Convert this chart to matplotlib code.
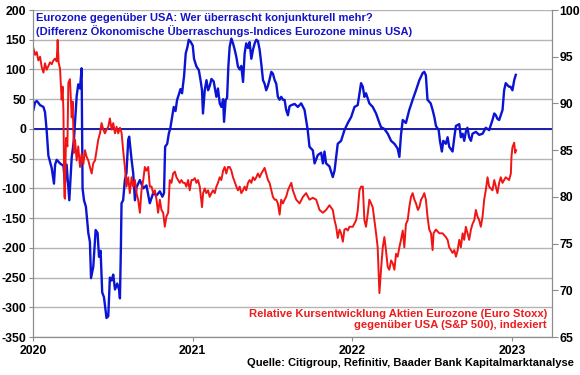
import matplotlib
matplotlib.use("Agg")
import matplotlib.pyplot as plt
import numpy as np

plt.rcParams['font.family'] = ['Liberation Sans', 'DejaVu Sans']
plt.rcParams['axes.unicode_minus'] = False

# Differenz Citi Surprise Index Eurozone minus USA (linke Achse), t in Dezimaljahren
blue_t = [2020.002, 2020.013, 2020.023, 2020.033, 2020.044, 2020.065, 2020.075, 2020.085, 2020.096,
          2020.106, 2020.117, 2020.131, 2020.138, 2020.148, 2020.169, 2020.19, 2020.2, 2020.21,
          2020.227, 2020.242, 2020.256, 2020.273, 2020.283, 2020.294, 2020.304, 2020.31, 2020.319,
          2020.331, 2020.346, 2020.356, 2020.363, 2020.377, 2020.392, 2020.404, 2020.413, 2020.423,
          2020.433, 2020.444, 2020.452, 2020.46, 2020.471, 2020.481, 2020.492, 2020.502, 2020.513,
          2020.527, 2020.54, 2020.544, 2020.55, 2020.554, 2020.564, 2020.575, 2020.585, 2020.596,
          2020.602, 2020.617, 2020.627, 2020.638, 2020.648, 2020.669, 2020.69, 2020.71, 2020.731,
          2020.752, 2020.773, 2020.794, 2020.81, 2020.82, 2020.827, 2020.84, 2020.85, 2020.86,
          2020.871, 2020.881, 2020.892, 2020.902, 2020.913, 2020.923, 2020.933, 2020.946, 2020.956,
          2020.967, 2020.975, 2020.988, 2021.0, 2021.008, 2021.023, 2021.038, 2021.05, 2021.058,
          2021.064, 2021.075, 2021.086, 2021.096, 2021.106, 2021.117, 2021.131, 2021.148, 2021.158,
          2021.169, 2021.179, 2021.19, 2021.196, 2021.206, 2021.215, 2021.223, 2021.231, 2021.242,
          2021.252, 2021.263, 2021.273, 2021.283, 2021.294, 2021.304, 2021.315, 2021.325, 2021.335,
          2021.346, 2021.356, 2021.367, 2021.377, 2021.388, 2021.398, 2021.408, 2021.419, 2021.429,
          2021.44, 2021.45, 2021.46, 2021.47, 2021.48, 2021.492, 2021.502, 2021.513, 2021.523,
          2021.533, 2021.544, 2021.554, 2021.565, 2021.575, 2021.585, 2021.596, 2021.606, 2021.617,
          2021.638, 2021.658, 2021.679, 2021.7, 2021.72, 2021.731, 2021.752, 2021.763, 2021.783,
          2021.804, 2021.815, 2021.825, 2021.835, 2021.856, 2021.877, 2021.888, 2021.898, 2021.908,
          2021.929, 2021.95, 2021.971, 2021.992, 2022.013, 2022.033, 2022.044, 2022.054, 2022.065,
          2022.075, 2022.085, 2022.106, 2022.127, 2022.148, 2022.169, 2022.179, 2022.2, 2022.221,
          2022.242, 2022.263, 2022.283, 2022.294, 2022.304, 2022.315, 2022.335, 2022.356, 2022.377,
          2022.398, 2022.419, 2022.44, 2022.45, 2022.46, 2022.47, 2022.49, 2022.502, 2022.513,
          2022.523, 2022.54, 2022.548, 2022.56, 2022.569, 2022.585, 2022.596, 2022.606, 2022.627,
          2022.638, 2022.648, 2022.669, 2022.679, 2022.69, 2022.7, 2022.71, 2022.72, 2022.731,
          2022.742, 2022.752, 2022.773, 2022.794, 2022.815, 2022.835, 2022.856, 2022.877, 2022.888,
          2022.898, 2022.908, 2022.919, 2022.929, 2022.94, 2022.95, 2022.96, 2022.97, 2022.98,
          2022.99, 2023.002, 2023.013, 2023.023]
blue_v = [32, 45, 47, 44, 40, 37, 28, -2, -45,
          -55, -66, -92, -60, -52, -58, -62, -90, -60,
          -120, -48, -18, 55, 75, 68, 102, -100, -120,
          -131, -175, -190, -251, -232, -170, -175, -215, -205,
          -275, -283, -300, -318, -315, -250, -255, -245, -270,
          -260, -272, -285, -200, -125, -120, -86, -74, -18,
          -13, -52, -74, -120, -98, -86, -100, -95, -125,
          -108, -112, -105, -114, -108, -30, -25, -8, 2,
          20, 37, 30, 49, 58, 67, 60, 90, 127,
          138, 150, 146, 140, 118, 105, 99, 80, 65,
          26, 65, 82, 65, 72, 84, 80, 54, 68,
          43, 37, 50, 12, 49, 52, 105, 138, 152,
          144, 133, 121, 105, 100, 106, 79, 127, 144,
          136, 146, 118, 133, 144, 150, 148, 133, 110,
          82, 76, 65, 72, 82, 96, 93, 82, 76,
          54, 49, 54, 49, 49, 32, 23, 38, 40,
          42, 37, 43, 32, -2, -30, -36, -58, -44,
          -40, -58, -38, -58, -63, -81, -70, -47, -25,
          -20, -2, 10, 20, 37, 40, 60, 77, 71,
          54, 60, 43, 37, 26, 10, 3, 0, -8,
          -20, -25, -33, -47, -10, 15, 10, 32, 49,
          65, 82, 94, 96, 90, 49, 43, 32, 20,
          5, -2, -20, -38, -20, -25, -14, -30, -38,
          -14, 5, 8, -14, -8, -20, -5, 2, -14,
          -20, -8, -5, -10, -8, 2, -2, 15, 26,
          23, 17, 15, 23, 32, 65, 77, 74, 71,
          71, 65, 82, 91]

# Relative Kursentwicklung Euro Stoxx vs. S&P 500, indexiert (rechte Achse)
red_t = [2020.002, 2020.013, 2020.023, 2020.033, 2020.044, 2020.054, 2020.065, 2020.075, 2020.085,
         2020.096, 2020.106, 2020.117, 2020.127, 2020.138, 2020.148, 2020.154, 2020.16, 2020.169,
         2020.179, 2020.185, 2020.19, 2020.196, 2020.2, 2020.206, 2020.215, 2020.221, 2020.231,
         2020.242, 2020.248, 2020.256, 2020.263, 2020.273, 2020.283, 2020.294, 2020.304, 2020.315,
         2020.325, 2020.335, 2020.346, 2020.356, 2020.367, 2020.377, 2020.388, 2020.398, 2020.408,
         2020.419, 2020.429, 2020.44, 2020.45, 2020.46, 2020.471, 2020.481, 2020.492, 2020.502,
         2020.513, 2020.523, 2020.533, 2020.544, 2020.554, 2020.564, 2020.575, 2020.585, 2020.596,
         2020.606, 2020.617, 2020.627, 2020.638, 2020.648, 2020.658, 2020.669, 2020.679, 2020.69,
         2020.7, 2020.71, 2020.721, 2020.731, 2020.742, 2020.752, 2020.763, 2020.773, 2020.783,
         2020.794, 2020.804, 2020.815, 2020.825, 2020.835, 2020.846, 2020.856, 2020.867, 2020.877,
         2020.888, 2020.898, 2020.908, 2020.919, 2020.929, 2020.94, 2020.95, 2020.96, 2020.971,
         2020.981, 2020.992, 2021.002, 2021.013, 2021.023, 2021.033, 2021.044, 2021.058, 2021.065,
         2021.075, 2021.085, 2021.096, 2021.106, 2021.117, 2021.127, 2021.138, 2021.148, 2021.158,
         2021.169, 2021.179, 2021.19, 2021.2, 2021.21, 2021.221, 2021.231, 2021.242, 2021.252,
         2021.263, 2021.273, 2021.283, 2021.294, 2021.304, 2021.315, 2021.325, 2021.335, 2021.346,
         2021.356, 2021.367, 2021.377, 2021.388, 2021.398, 2021.408, 2021.419, 2021.429, 2021.44,
         2021.45, 2021.46, 2021.471, 2021.481, 2021.492, 2021.502, 2021.513, 2021.523, 2021.533,
         2021.544, 2021.554, 2021.565, 2021.575, 2021.585, 2021.596, 2021.606, 2021.617, 2021.627,
         2021.648, 2021.669, 2021.69, 2021.71, 2021.731, 2021.752, 2021.773, 2021.794, 2021.815,
         2021.835, 2021.856, 2021.877, 2021.888, 2021.898, 2021.908, 2021.919, 2021.929, 2021.94,
         2021.95, 2021.96, 2021.971, 2021.981, 2022.002, 2022.023, 2022.033, 2022.044, 2022.054,
         2022.065, 2022.075, 2022.085, 2022.096, 2022.106, 2022.117, 2022.127, 2022.148, 2022.158,
         2022.165, 2022.169, 2022.179, 2022.19, 2022.2, 2022.21, 2022.221, 2022.231, 2022.242,
         2022.252, 2022.263, 2022.273, 2022.283, 2022.294, 2022.304, 2022.315, 2022.325, 2022.335,
         2022.346, 2022.356, 2022.367, 2022.377, 2022.388, 2022.398, 2022.41, 2022.419, 2022.43,
         2022.44, 2022.45, 2022.46, 2022.47, 2022.481, 2022.492, 2022.502, 2022.508, 2022.523,
         2022.544, 2022.565, 2022.585, 2022.596, 2022.606, 2022.617, 2022.627, 2022.638, 2022.648,
         2022.658, 2022.669, 2022.679, 2022.69, 2022.7, 2022.71, 2022.721, 2022.731, 2022.742,
         2022.752, 2022.763, 2022.773, 2022.783, 2022.794, 2022.804, 2022.815, 2022.825, 2022.835,
         2022.846, 2022.856, 2022.877, 2022.888, 2022.898, 2022.908, 2022.919, 2022.929, 2022.94,
         2022.96, 2022.981, 2022.992, 2022.996, 2023.002, 2023.013, 2023.019, 2023.025]
red_v = [95.9, 95.2, 95.5, 94.6, 95.0, 93.9, 93.3, 94.3, 93.6,
         94.0, 94.4, 94.2, 94.6, 94.8, 94.5, 96.8, 94.4, 93.7,
         90.4, 91.8, 89.3, 80.0, 79.8, 86.3, 85.4, 92.2, 92.6,
         88.5, 90.2, 84.7, 86.1, 83.9, 85.4, 83.2, 84.6, 83.5,
         85.0, 84.3, 83.9, 83.2, 82.5, 83.6, 83.9, 85.0, 86.1,
         86.8, 87.9, 87.2, 86.8, 87.2, 87.5, 88.4, 87.2, 87.9,
         86.8, 87.5, 86.8, 87.4, 86.9, 85.0, 83.2, 81.1, 82.1,
         80.4, 82.1, 81.1, 81.8, 80.4, 79.7, 78.3, 80.7, 81.8,
         83.2, 82.8, 83.2, 81.1, 81.1, 80.4, 80.7, 79.7, 78.3,
         79.7, 78.6, 78.3, 76.8, 77.9, 78.3, 81.8, 81.5, 82.5,
         82.7, 82.1, 81.8, 81.5, 81.8, 81.5, 81.5, 81.1, 81.8,
         80.7, 81.8, 81.8, 82.0, 81.5, 81.8, 81.1, 78.9, 80.4,
         80.9, 80.4, 80.7, 80.0, 80.4, 80.7, 80.4, 81.1, 81.5,
         82.1, 81.8, 82.8, 83.2, 82.5, 83.2, 83.2, 82.8, 82.1,
         81.6, 81.1, 80.7, 81.1, 80.4, 80.7, 81.1, 80.7, 81.5,
         81.8, 81.5, 82.1, 81.8, 82.1, 82.5, 82.1, 82.5, 82.8,
         83.1, 82.5, 81.8, 81.5, 80.7, 80.0, 79.7, 79.7, 79.3,
         78.1, 79.7, 79.3, 79.7, 80.0, 80.7, 81.1, 81.5, 80.7,
         79.7, 79.3, 80.0, 80.4, 79.7, 79.9, 79.7, 78.6, 78.3,
         78.6, 79.1, 78.6, 77.5, 76.8, 75.6, 76.5, 76.1, 75.2,
         76.5, 76.6, 76.4, 76.8, 76.8, 77.5, 78.5, 80.7, 81.1,
         81.1, 77.5, 76.8, 78.2, 79.7, 79.3, 78.9, 76.1, 74.6,
         71.4, 69.7, 72.2, 74.6, 75.7, 74.3, 72.5, 72.2, 73.2,
         72.9, 72.2, 73.9, 73.6, 74.6, 75.4, 76.4, 74.6, 77.1,
         77.5, 78.9, 80.0, 80.4, 79.7, 79.3, 78.6, 78.9, 79.7,
         80.0, 80.4, 79.7, 77.9, 76.5, 76.1, 74.3, 76.1, 76.5,
         76.1, 76.1, 75.7, 75.4, 74.6, 74.3, 74.0, 74.3, 73.6,
         74.2, 75.4, 74.6, 76.1, 75.4, 76.8, 76.1, 75.4, 76.5,
         77.1, 77.5, 78.6, 77.9, 77.5, 76.8, 77.9, 79.7, 80.7,
         82.1, 81.1, 80.7, 81.8, 81.1, 80.4, 81.5, 82.1, 81.5,
         82.1, 81.8, 82.5, 84.3, 85.3, 85.8, 84.7, 85.0]

left_ticks = np.arange(-350, 201, 50)
right_ticks = np.arange(65, 101, 5)
year_ticks = [2020, 2021, 2022, 2023]

fig = plt.figure(figsize=(5.8, 3.75), dpi=100)
ax = fig.add_axes([0.057, 0.1013, 0.8948, 0.872])
ax2 = ax.twinx()

ax.set_ylim(-350, 200)
ax2.set_ylim(65, 100)
ax.set_xlim(2020, 2023.25)

ax.set_yticks(left_ticks)
ax2.set_yticks(right_ticks)
ax.set_xticks(year_ticks)
ax.set_xticklabels([str(y) for y in year_ticks])

ax.grid(axis='y', color='#b4b4b4', linewidth=1.0)
ax.set_axisbelow(True)

ax.axhline(0, color='#1c1ca8', linewidth=1.4, zorder=2)
ax.plot(blue_t, blue_v, color='#0a14d2', linewidth=1.7, zorder=3)
ax2.plot(red_t, red_v, color='#f01414', linewidth=1.4)

for a in (ax, ax2):
    for side in ('top', 'left', 'right', 'bottom'):
        a.spines[side].set_color('#8c8c8c')
    a.spines['top'].set_visible(False)
    a.tick_params(colors='#8c8c8c', labelcolor='black', length=3, width=0.8)
    for lbl in a.get_xticklabels() + a.get_yticklabels():
        lbl.set_fontweight('bold')
        lbl.set_fontsize(8.8)
ax.tick_params(axis='y', pad=2, length=3)
ax.tick_params(axis='x', pad=3, length=3)
ax2.tick_params(axis='y', pad=1.5, length=4)

ax.text(0.006, 0.99, 'Eurozone gegenüber USA: Wer überrascht konjunkturell mehr?\n'
        '(Differenz Ökonomische Überraschungs-Indices Eurozone minus USA)',
        transform=ax.transAxes, ha='left', va='top', color='#1414c8',
        fontsize=8, fontweight='bold', linespacing=1.2)

ax.text(0.99, 0.085, 'Relative Kursentwicklung Aktien Eurozone (Euro Stoxx)\n'
        'gegenüber USA (S&P 500), indexiert',
        transform=ax.transAxes, ha='right', va='top', color='#ee1c1c',
        fontsize=8.1, fontweight='bold', linespacing=1.1, multialignment='right')

fig.text(0.99, 0.032, 'Quelle: Citigroup, Refinitiv, Baader Bank Kapitalmarktanalyse',
         ha='right', va='center', fontsize=8, fontweight='bold', color='black')

fig.savefig('out.png', dpi=100)
